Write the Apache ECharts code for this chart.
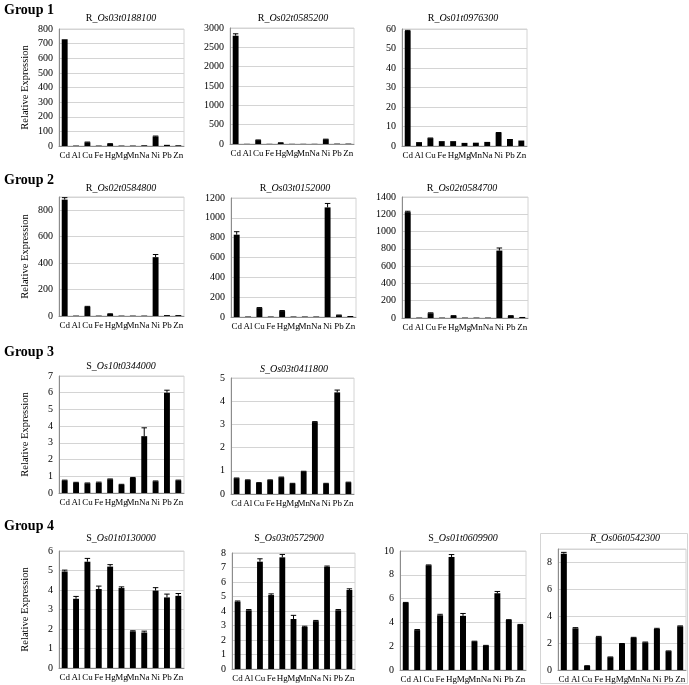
<!DOCTYPE html>
<html><head><meta charset="utf-8">
<script src="https://cdn.jsdelivr.net/npm/echarts@6/dist/echarts.min.js"></script>
<style>html,body{margin:0;padding:0;background:#fff}#c{width:689px;height:685px}</style>
</head><body><div id="c"></div>
<script>
const categories = ['Cd','Al','Cu','Fe','Hg','Mg','Mn','Na','Ni','Pb','Zn'];
const groupLabels = ['Group 1','Group 2','Group 3','Group 4'];
// Group 1
const os03t0188100 = [730, 3, 25, 3, 15, 3, 3, 5, 65, 8, 5];
const os03t0188100Err = [0, 0, 2, 0, 1, 0, 0, 0, 3, 0, 0];
const os02t0585200 = [2800, 5, 100, 5, 30, 5, 5, 5, 120, 10, 10];
const os02t0585200Err = [50, 0, 5, 0, 2, 0, 0, 0, 5, 0, 0];
const os01t0976300 = [59, 2, 4, 2.5, 2.5, 1.6, 1.7, 2.1, 6.8, 3.6, 2.8];
const os01t0976300Err = [0.3, 0, 0.1, 0, 0, 0, 0, 0, 0.1, 0, 0];
// Group 2
const os02t0584800 = [880, 3, 70, 3, 15, 3, 3, 3, 445, 7, 7];
const os02t0584800Err = [15, 0, 3, 0, 2, 0, 0, 0, 20, 0, 0];
const os03t0152000 = [830, 5, 90, 5, 60, 5, 5, 5, 1105, 18, 10];
const os03t0152000Err = [30, 0, 5, 0, 5, 0, 0, 0, 40, 2, 0];
const os02t0584700 = [1225, 5, 55, 5, 25, 5, 5, 5, 780, 25, 12];
const os02t0584700Err = [10, 0, 5, 0, 2, 0, 0, 0, 30, 2, 0];
// Group 3
const os10t0344000 = [0.75, 0.62, 0.58, 0.62, 0.82, 0.5, 0.9, 3.4, 0.7, 6.0, 0.75];
const os10t0344000Err = [0.02, 0.02, 0.02, 0.03, 0.02, 0.02, 0.03, 0.5, 0.02, 0.15, 0.02];
const os03t0411800 = [0.68, 0.6, 0.48, 0.6, 0.72, 0.45, 0.97, 3.1, 0.45, 4.38, 0.5];
const os03t0411800Err = [0.01, 0.01, 0.01, 0.01, 0.01, 0.01, 0.01, 0.02, 0.01, 0.1, 0.01];
// Group 4
const os01t0130000 = [4.95, 3.55, 5.45, 4.05, 5.2, 4.1, 1.88, 1.82, 3.97, 3.62, 3.7];
const os01t0130000Err = [0.07, 0.12, 0.17, 0.15, 0.1, 0.06, 0.03, 0.07, 0.15, 0.17, 0.12];
const os03t0572900 = [4.65, 4.05, 7.4, 5.1, 7.7, 3.45, 2.9, 3.3, 7.05, 4.05, 5.45];
const os03t0572900Err = [0.04, 0.05, 0.2, 0.08, 0.2, 0.25, 0.05, 0.05, 0.05, 0.05, 0.08];
const os01t0609900 = [5.65, 3.35, 8.8, 4.6, 9.5, 4.55, 2.4, 2.05, 6.45, 4.2, 3.8];
const os01t0609900Err = [0.03, 0.05, 0.03, 0.08, 0.2, 0.2, 0.02, 0.02, 0.15, 0.03, 0.03];
const os06t0542300 = [8.65, 3.1, 0.3, 2.45, 0.95, 1.95, 2.4, 2.05, 3.05, 1.4, 3.25];
const os06t0542300Err = [0.1, 0.05, 0.02, 0.05, 0.02, 0.02, 0.03, 0.03, 0.05, 0.02, 0.03];

const FONT = '"Liberation Serif", "DejaVu Serif", serif';
const panels = [
  {pre:'R_', gene:'Os03t0188100', allItalic:false, v:os03t0188100, e:os03t0188100Err, max:800, iv:100, g:[59,29,125,117], t:[121,19], ylab:true},
  {pre:'R_', gene:'Os02t0585200', allItalic:false, v:os02t0585200, e:os02t0585200Err, max:3000, iv:500, g:[230,28,124,116], t:[293,19]},
  {pre:'R_', gene:'Os01t0976300', allItalic:false, v:os01t0976300, e:os01t0976300Err, max:60, iv:10, g:[402,29,125,117], t:[463,19]},
  {pre:'R_', gene:'Os02t0584800', allItalic:false, v:os02t0584800, e:os02t0584800Err, max:900, iv:200, g:[59,197,125,119], t:[121,189], ylab:true, hideMax:true},
  {pre:'R_', gene:'Os03t0152000', allItalic:false, v:os03t0152000, e:os03t0152000Err, max:1200, iv:200, g:[231,198,125,119], t:[295,189]},
  {pre:'R_', gene:'Os02t0584700', allItalic:false, v:os02t0584700, e:os02t0584700Err, max:1400, iv:200, g:[402,197,126,121], t:[462,189]},
  {pre:'S_', gene:'Os10t0344000', allItalic:false, v:os10t0344000, e:os10t0344000Err, max:7, iv:1, g:[59,376,125,117], t:[121,367], ylab:true},
  {pre:'S_', gene:'Os03t0411800', allItalic:true, v:os03t0411800, e:os03t0411800Err, max:5, iv:1, g:[231,378,123,116], t:[294,370]},
  {pre:'S_', gene:'Os01t0130000', allItalic:false, v:os01t0130000, e:os01t0130000Err, max:6, iv:1, g:[59,551,125,117], t:[121,539], ylab:true},
  {pre:'S_', gene:'Os03t0572900', allItalic:false, v:os03t0572900, e:os03t0572900Err, max:8, iv:1, g:[232,553,123,116], t:[289,539]},
  {pre:'S_', gene:'Os01t0609900', allItalic:false, v:os01t0609900, e:os01t0609900Err, max:10, iv:2, g:[400,551,126,119], t:[463,539]},
  {pre:'R_', gene:'Os06t0542300', allItalic:true, v:os06t0542300, e:os06t0542300Err, max:9, iv:2, g:[558,549,128,121], t:[625,539], hideMax:true}
];
const groupPos = [[4,3],[4,173],[4,345],[4,519]];

const grid=[], xAxis=[], yAxis=[], series=[], title=[];
groupLabels.forEach((g,i)=>{
  title.push({text:g, left:groupPos[i][0], top:groupPos[i][1], padding:0,
    textStyle:{fontFamily:FONT, fontSize:14, fontWeight:'bold', color:'#000'}});
});
panels.forEach((p,i)=>{
  grid.push({left:p.g[0], top:p.g[1], width:p.g[2], height:p.g[3], show:true, borderColor:'#d4d4d4', borderWidth:1, containLabel:false});
  title.push({text: p.allItalic ? '{i|'+p.pre+p.gene+'}' : '{n|'+p.pre+'}{i|'+p.gene+'}',
    left:p.t[0], top:p.t[1]-6, textAlign:'center', padding:0,
    textStyle:{fontFamily:FONT, fontSize:10, fontWeight:'normal', color:'#000',
      rich:{n:{fontFamily:FONT, fontSize:10, fontWeight:'normal', color:'#000'},
            i:{fontFamily:FONT, fontSize:10, fontWeight:'normal', fontStyle:'italic', color:'#000'}}}});
  xAxis.push({type:'category', gridIndex:i, data:categories,
    axisLine:{lineStyle:{color:'#8c8c8c', width:1}}, axisTick:{show:false},
    axisLabel:{interval:0, fontFamily:FONT, fontSize:9, color:'#000', margin:5}});
  yAxis.push({type:'value', gridIndex:i, min:0, max:p.max, interval:p.iv,
    name: p.ylab ? 'Relative Expression' : '', nameLocation:'middle', nameGap:28,
    nameTextStyle:{fontFamily:FONT, fontSize:10.5, color:'#000'},
    axisLine:{show:true, lineStyle:{color:'#8c8c8c', width:1}}, axisTick:{show:false},
    axisLabel:{fontFamily:FONT, fontSize:10, color:'#000', margin:6, showMaxLabel: !p.hideMax,
      formatter: v => String(v)},
    splitLine:{lineStyle:{color:'#d4d4d4', width:1}}});
  series.push({type:'bar', xAxisIndex:i, yAxisIndex:i, data:p.v, barWidth:'52%',
    itemStyle:{color:'#000'}, silent:true, animation:false});
  series.push({type:'custom', xAxisIndex:i, yAxisIndex:i, silent:true, animation:false,
    data:p.v.map((v,k)=>[k, v, p.e[k]]),
    renderItem:function(params, api){
      const err = api.value(2);
      if(!err) return null;
      const x = api.value(0), y = api.value(1);
      const base = api.coord([x, y]);
      const top = api.coord([x, y+err]);
      const hw = api.size([1,0])[0]*0.24;
      return {type:'group', children:[
        {type:'line', shape:{x1:base[0], y1:base[1], x2:top[0], y2:top[1]}, style:{stroke:'#000', lineWidth:1}},
        {type:'line', shape:{x1:top[0]-hw, y1:top[1], x2:top[0]+hw, y2:top[1]}, style:{stroke:'#000', lineWidth:1}}
      ]};
    }});
});

const chart = echarts.init(document.getElementById('c'), null, {renderer:'canvas'});
chart.setOption({animation:false, backgroundColor:'#fff', title, grid, xAxis, yAxis, series,
  graphic:[{type:'rect', shape:{x:540.5, y:533.5, width:147, height:150}, style:{fill:'none', stroke:'#d4d4d4', lineWidth:1}, silent:true}]});
</script></body></html>
